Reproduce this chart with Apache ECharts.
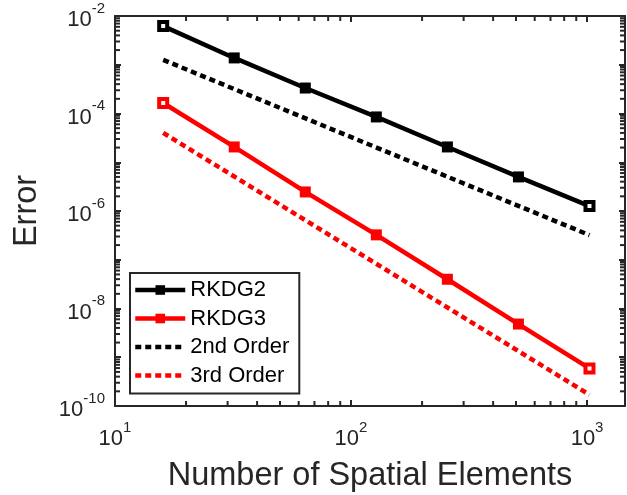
<!DOCTYPE html>
<html>
<head>
<meta charset="utf-8">
<script src="https://cdn.jsdelivr.net/npm/echarts@6/dist/echarts.min.js"></script>
<style>html,body{margin:0;padding:0;background:#fff;}#c{width:627px;height:495px;}</style>
</head>
<body>
<div id="c"></div>
<script>
const elements = [16, 32, 64, 128, 256, 512, 1024];
const rkdg2 = [6.2e-3, 1.38e-3, 3.33e-4, 8.5e-5, 2.06e-5, 5.0e-6, 1.26e-6];
const rkdg3 = [1.64e-4, 2.06e-5, 2.46e-6, 3.24e-7, 3.98e-8, 4.8e-9, 5.9e-10];
const refX = [16, 1024];
const order2 = [1.26e-3, 3.2e-7];
const order3 = [4.0e-5, 1.7e-10];
const seriesNames = ['RKDG2', 'RKDG3', '2nd Order', '3rd Order'];
const xDecades = [10, 100, 1000];
const yDecades = [1e-10, 1e-9, 1e-8, 1e-7, 1e-6, 1e-5, 1e-4, 1e-3];
const minorSteps = [2, 3, 4, 5, 6, 7, 8, 9];

const FONT = 'Liberation Sans, Arial, Helvetica, sans-serif';
const TXT = '#262626';

function pairs(xs, ys) { return xs.map((x, i) => [x, ys[i]]); }
function markerPairs(xs, ys, color) {
  return xs.map((x, i) => {
    const d = { value: [x, ys[i]] };
    if (i === 0 || i === xs.length - 1) {
      d.itemStyle = { color: '#ffffff', borderColor: color, borderWidth: 4 };
      d.symbolSize = 8;
    }
    return d;
  });
}
function minorValues(decades, maxV) {
  const out = [];
  decades.forEach(d => minorSteps.forEach(s => { const v = d * s; if (v < maxV) out.push(v); }));
  return out;
}
function expLabel(v) {
  const e = Math.log10(v);
  const r = Math.round(e);
  if (Math.abs(e - r) > 1e-6) return '';
  return r;
}

const X_MIN = 10, X_MAX = 1448, Y_MIN = 1e-10, Y_MAX = 1e-2;
const xMinor = minorValues(xDecades, X_MAX);
const yMinor = minorValues(yDecades, Y_MAX);
const MINOR_LEN = 5;

const chart = echarts.init(document.getElementById('c'), null, { renderer: 'canvas' });
const rich = {
  b: { fontSize: 22, fontFamily: FONT, color: TXT, verticalAlign: 'bottom', lineHeight: 30 },
  e: { fontSize: 15, fontFamily: FONT, color: TXT, verticalAlign: 'top', lineHeight: 30 }
};
const axisLineStyle = { color: TXT, width: 2 };
const tickStyle = { show: true, inside: true, length: 6, lineStyle: { color: TXT, width: 2 } };

chart.setOption({
  backgroundColor: '#ffffff',
  animation: false,
  grid: { left: 115, top: 16, right: 2, bottom: 89, containLabel: false, outerBoundsMode: 'none' },
  legend: {
    orient: 'vertical',
    left: 130, top: 273,
    data: [
      { name: seriesNames[0] },
      { name: seriesNames[1] },
      { name: seriesNames[2], itemStyle: { opacity: 0 } },
      { name: seriesNames[3], itemStyle: { opacity: 0 } }
    ],
    backgroundColor: '#ffffff',
    borderColor: TXT, borderWidth: 2,
    padding: [6, 10, 7, 3],
    itemWidth: 50, itemHeight: 12, itemGap: 6.5,
    lineStyle: { width: 4.5 },
    textStyle: { fontSize: 22, fontFamily: FONT, color: '#000', lineHeight: 22 }
  },
  xAxis: [{
    type: 'log', logBase: 10, min: X_MIN, max: X_MAX,
    name: 'Number of Spatial Elements', nameLocation: 'middle', nameGap: 54,
    nameTextStyle: { fontSize: 32.5, fontFamily: FONT, color: TXT },
    axisLine: { show: true, lineStyle: axisLineStyle },
    axisTick: tickStyle,
    splitLine: { show: false },
    axisLabel: {
      margin: 14, showMaxLabel: false,
      formatter: v => { const r = expLabel(v); return r === '' ? '' : '{b|10}{e|' + r + '}'; },
      rich: rich
    }
  }, {
    type: 'log', logBase: 10, min: X_MIN, max: X_MAX, position: 'top',
    axisLine: { show: true, lineStyle: axisLineStyle },
    axisTick: tickStyle,
    splitLine: { show: false }, axisLabel: { show: false }
  }],
  yAxis: [{
    type: 'log', logBase: 10, min: Y_MIN, max: Y_MAX,
    name: 'Error', nameLocation: 'middle', nameGap: 71,
    nameTextStyle: { fontSize: 32.5, fontFamily: FONT, color: TXT },
    axisLine: { show: true, lineStyle: axisLineStyle },
    axisTick: tickStyle,
    splitLine: { show: false },
    axisLabel: {
      margin: 10,
      formatter: v => { const r = expLabel(v); return (r === '' || r % 2 !== 0) ? '' : '{b|10}{e|' + r + '}'; },
      rich: rich
    }
  }, {
    type: 'log', logBase: 10, min: Y_MIN, max: Y_MAX, position: 'right',
    axisLine: { show: true, lineStyle: axisLineStyle },
    axisTick: tickStyle,
    splitLine: { show: false }, axisLabel: { show: false }
  }],
  series: [
    { name: seriesNames[0], type: 'line', data: markerPairs(elements, rkdg2, '#000000'),
      symbol: 'rect', symbolSize: 11, color: '#000000',
      lineStyle: { color: '#000000', width: 4.5 }, itemStyle: { color: '#000000' }, z: 5 },
    { name: seriesNames[1], type: 'line', data: markerPairs(elements, rkdg3, '#ff0000'),
      symbol: 'rect', symbolSize: 11, color: '#ff0000',
      lineStyle: { color: '#ff0000', width: 4.5 }, itemStyle: { color: '#ff0000' }, z: 5 },
    { name: seriesNames[2], type: 'line', data: pairs(refX, order2), showSymbol: false, symbol: 'none',
      color: '#000000', lineStyle: { color: '#000000', width: 4.5, type: [6, 4] } },
    { name: seriesNames[3], type: 'line', data: pairs(refX, order3), showSymbol: false, symbol: 'none',
      color: '#ff0000', lineStyle: { color: '#ff0000', width: 4.5, type: [6, 4] } }
  ]
});

// minor ticks of the log axes, positioned through the chart's own axis scales
try {
  const finder = { xAxisIndex: 0, yAxisIndex: 0 };
  const els = [];
  const st = { stroke: TXT, lineWidth: 2 };
  xMinor.forEach(v => {
    const pb = chart.convertToPixel(finder, [v, Y_MIN]);
    const pt = chart.convertToPixel(finder, [v, Y_MAX]);
    els.push({ type: 'line', silent: true, z: 100, shape: { x1: pb[0], y1: pb[1], x2: pb[0], y2: pb[1] - MINOR_LEN }, style: st });
    els.push({ type: 'line', silent: true, z: 100, shape: { x1: pt[0], y1: pt[1], x2: pt[0], y2: pt[1] + MINOR_LEN }, style: st });
  });
  yMinor.forEach(v => {
    const pl = chart.convertToPixel(finder, [X_MIN, v]);
    const pr = chart.convertToPixel(finder, [X_MAX, v]);
    els.push({ type: 'line', silent: true, z: 100, shape: { x1: pl[0], y1: pl[1], x2: pl[0] + MINOR_LEN, y2: pl[1] }, style: st });
    els.push({ type: 'line', silent: true, z: 100, shape: { x1: pr[0], y1: pr[1], x2: pr[0] - MINOR_LEN, y2: pr[1] }, style: st });
  });
  chart.setOption({ graphic: els });
} catch (e) { /* keep chart without minor ticks */ }
</script>
</body>
</html>
